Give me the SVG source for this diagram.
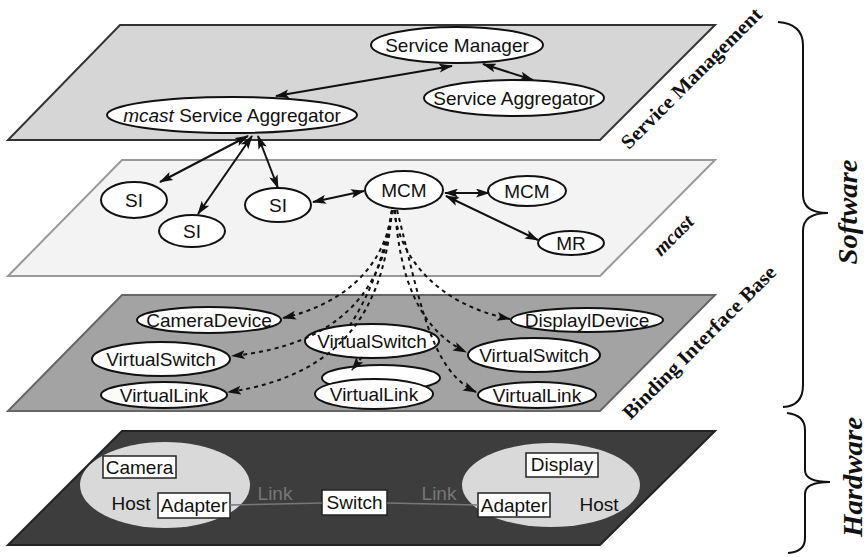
<svg xmlns="http://www.w3.org/2000/svg" width="867" height="557" viewBox="0 0 867 557">
<defs>
<marker id="ah" viewBox="0 0 14 9" refX="13" refY="4.5" markerWidth="14" markerHeight="9" markerUnits="userSpaceOnUse" orient="auto-start-reverse">
<path d="M0,0 L14,4.5 L0,9 L3,4.5 Z" fill="#111"/>
</marker>
</defs>
<style>
.node ellipse{fill:#fff;stroke:#111;stroke-width:2}
.t{font-family:"Liberation Sans",Arial,sans-serif;font-size:19px;fill:#111;text-anchor:middle}
.box{fill:#fff;stroke:#222;stroke-width:1.5}
.solid{fill:none;stroke:#111;stroke-width:2;marker-start:url(#ah);marker-end:url(#ah)}
.dash{fill:none;stroke:#111;stroke-width:2;stroke-dasharray:4 4;marker-end:url(#ah)}
.lbl{font-family:"Liberation Serif","Times New Roman",serif;font-weight:bold;fill:#111;text-anchor:middle}
.link{stroke:#777;stroke-width:1.5;fill:none}
.linkt{font-family:"Liberation Sans",Arial,sans-serif;font-size:19px;fill:#777;text-anchor:middle}
</style>

<g id="planes">
<polygon id="plane-service-management" points="120,25 715,25 600,140 8,140" fill="#d6d6d6" stroke="#333" stroke-width="2"/>
<polygon id="plane-mcast" points="122,160 715,160 600,276 8,276" fill="#f3f3f3" stroke="#999" stroke-width="2"/>
<polygon id="plane-bib" points="122,295 715,295 600,411 8,411" fill="#a3a3a3" stroke="#666" stroke-width="2"/>
<polygon id="plane-hardware" points="122,431 715,431 600,545 8,545" fill="#3d3d3d" stroke="#222" stroke-width="2"/>
</g>

<g id="labels">
<text class="lbl" font-size="20" transform="translate(696,83) rotate(-45)" textLength="190" lengthAdjust="spacingAndGlyphs">Service Management</text>
<text class="lbl" font-size="20" font-style="italic" transform="translate(678,240) rotate(-45)">mcast</text>
<text class="lbl" font-size="20" transform="translate(704,347) rotate(-45)" textLength="208" lengthAdjust="spacingAndGlyphs">Binding Interface Base</text>
<text class="lbl" font-size="27" font-style="italic" transform="translate(857,212) rotate(-90)" textLength="105" lengthAdjust="spacingAndGlyphs">Software</text>
<text class="lbl" font-size="27" font-style="italic" transform="translate(862,477) rotate(-90)" textLength="120" lengthAdjust="spacingAndGlyphs">Hardware</text>
<path d="M778,22 Q803,24 803,45 L803,195 Q803,213 828,213 Q803,213 803,231 L803,385 Q803,406 783,407" fill="none" stroke="#111" stroke-width="2"/>
<path d="M787,413 Q805,415 805,430 L805,470 Q805,482 830,482 Q805,482 805,494 L805,538 Q805,552 788,553" fill="none" stroke="#111" stroke-width="2"/>
</g>

<g id="service-manager" class="node"><ellipse cx="457" cy="45" rx="86" ry="18"/><text class="t" x="457" y="52">Service Manager</text></g>
<g id="service-aggregator" class="node"><ellipse cx="514" cy="98" rx="90" ry="18"/><text class="t" x="514" y="105">Service Aggregator</text></g>
<g id="mcast-service-aggregator" class="node"><ellipse cx="232" cy="115" rx="125" ry="18"/><text class="t" x="232" y="122"><tspan font-style="italic">mcast</tspan> Service Aggregator</text></g>

<g id="si1" class="node"><ellipse cx="134" cy="200" rx="33" ry="18"/><text class="t" x="134" y="207">SI</text></g>
<g id="si2" class="node"><ellipse cx="192" cy="231" rx="33" ry="16"/><text class="t" x="192" y="238">SI</text></g>
<g id="si3" class="node"><ellipse cx="278" cy="205" rx="33" ry="17"/><text class="t" x="278" y="212">SI</text></g>
<g id="mcm1" class="node"><ellipse cx="404" cy="190" rx="39" ry="19"/><text class="t" x="404" y="197">MCM</text></g>
<g id="mcm2" class="node"><ellipse cx="527" cy="191" rx="39" ry="15"/><text class="t" x="527" y="198">MCM</text></g>
<g id="mr" class="node"><ellipse cx="571" cy="243" rx="33" ry="12"/><text class="t" x="571" y="250">MR</text></g>

<g id="camera-device" class="node"><ellipse cx="209" cy="320" rx="72" ry="13"/><text class="t" x="209" y="327">CameraDevice</text></g>
<g id="virtual-switch-left" class="node"><ellipse cx="161" cy="359" rx="69" ry="17"/><text class="t" x="161" y="366">VirtualSwitch</text></g>
<g id="virtual-link-left" class="node"><ellipse cx="164" cy="395" rx="63" ry="13"/><text class="t" x="164" y="402">VirtualLink</text></g>
<g id="virtual-switch-mid" class="node"><ellipse cx="372" cy="341" rx="67" ry="17"/><text class="t" x="372" y="348">VirtualSwitch</text></g>
<g id="virtual-link-back" class="node"><ellipse cx="381" cy="378" rx="59" ry="13"/></g>
<g id="virtual-link-mid" class="node"><ellipse cx="374" cy="394" rx="59" ry="15"/><text class="t" x="374" y="401">VirtualLink</text></g>
<g id="display-device" class="node"><ellipse cx="587" cy="320" rx="76" ry="12"/><text class="t" x="587" y="327">DisplaylDevice</text></g>
<g id="virtual-switch-right" class="node"><ellipse cx="534" cy="355" rx="66" ry="17"/><text class="t" x="534" y="362">VirtualSwitch</text></g>
<g id="virtual-link-right" class="node"><ellipse cx="537" cy="395" rx="59" ry="13"/><text class="t" x="537" y="402">VirtualLink</text></g>

<g id="host-left"><ellipse cx="165" cy="485" rx="85" ry="43" fill="#d9d9d9"/><text class="t" x="131" y="510">Host</text></g>
<g id="camera"><rect class="box" x="103" y="456" width="73" height="22"/><text class="t" x="139.5" y="474">Camera</text></g>
<g id="adapter-left"><rect class="box" x="158" y="493" width="72" height="25"/><text class="t" x="194" y="512">Adapter</text></g>
<g id="switch"><rect class="box" x="322" y="490" width="65" height="25"/><text class="t" x="354.5" y="509">Switch</text></g>
<g id="host-right"><ellipse cx="551" cy="485" rx="89" ry="42" fill="#d9d9d9"/><text class="t" x="599" y="511">Host</text></g>
<g id="display"><rect class="box" x="526" y="453" width="72" height="24"/><text class="t" x="562" y="471">Display</text></g>
<g id="adapter-right"><rect class="box" x="478" y="493" width="72" height="24"/><text class="t" x="514" y="512">Adapter</text></g>

<g id="connectors">
<path class="solid" d="M276,96 L452,66"/>
<path class="solid" d="M483,64 L533,80"/>
<path class="solid" d="M248,136 L160,182"/>
<path class="solid" d="M252,136 L198,214"/>
<path class="solid" d="M258,136 L278,188"/>
<path class="solid" d="M313,202 L364,191"/>
<path class="solid" d="M445,193 L489,193"/>
<path class="solid" d="M446,196 L538,240"/>
<path class="dash" d="M392,210 C385,270 340,305 283,318"/>
<path class="dash" d="M392,210 C385,290 340,345 232,356"/>
<path class="dash" d="M392,210 C385,300 350,375 228,392"/>
<path class="dash" style="marker-end:none" d="M392,210 Q380,280 350,325"/>
<path class="dash" d="M362,357 L352,370"/>
<path class="dash" d="M394,210 C400,260 440,305 510,319"/>
<path class="dash" d="M395,210 C400,280 420,330 466,352"/>
<path class="dash" d="M397,210 C420,300 430,370 476,392"/>
<path class="link" d="M230,505 L322,503 M387,503 L478,505"/>
<text class="linkt" x="275" y="500">Link</text>
<text class="linkt" x="439" y="500">Link</text>
</g>
</svg>
